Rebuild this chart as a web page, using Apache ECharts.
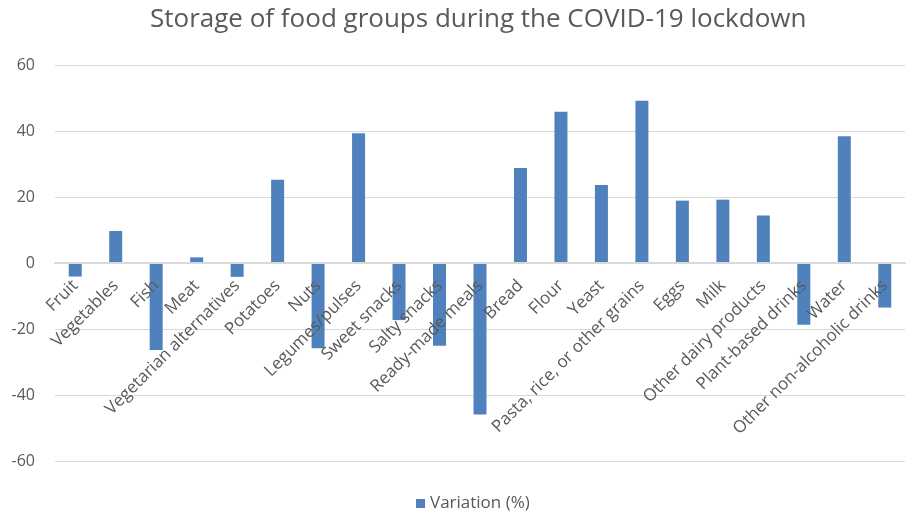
<!DOCTYPE html>
<html>
<head>
<meta charset="utf-8">
<script src="https://cdn.jsdelivr.net/npm/echarts@6/dist/echarts.min.js"></script>
<style>
html, body { margin: 0; padding: 0; background: #fff; }
#chart { width: 906px; height: 517px; }
</style>
</head>
<body>
<div id="chart"></div>
<script>
const categories = ['Fruit', 'Vegetables', 'Fish', 'Meat', 'Vegetarian alternatives', 'Potatoes', 'Nuts',
  'Legumes/pulses', 'Sweet snacks', 'Salty snacks', 'Ready-made meals', 'Bread', 'Flour', 'Yeast',
  'Pasta, rice, or other grains', 'Eggs', 'Milk', 'Other dairy products', 'Plant-based drinks', 'Water',
  'Other non-alcoholic drinks'];
const variation = [-4.1, 9.7, -26.4, 1.7, -4.2, 25.2, -25.8, 39.3, -17.3, -25.1, -45.9, 28.8, 45.8, 23.6,
  49.2, 18.9, 19.2, 14.4, -18.7, 38.4, -13.5];
const yTicks = { min: -60, max: 60, step: 20 };

const chart = echarts.init(document.getElementById('chart'));
const grey = '#595959';
const font = 'Open Sans';

chart.setOption({
  animation: false,
  title: {
    text: 'Storage of food groups during the COVID-19 lockdown',
    left: 145,
    top: 2,
    textStyle: { fontFamily: font, fontSize: 26, fontWeight: 'normal', color: grey }
  },
  legend: {
    top: 490,
    left: 411,
    itemWidth: 9,
    itemHeight: 9,
    itemGap: 6,
    icon: 'rect',
    textStyle: { fontFamily: font, fontSize: 17, color: grey },
    data: ['Variation (%)']
  },
  grid: { left: 55, right: 1, top: 65, bottom: 56, containLabel: false, outerBoundsMode: 'none' },
  xAxis: {
    type: 'category',
    data: categories,
    z: 5,
    // sit the axis (line and labels) on the zero level, half way up the plot
    offset: -198,
    axisLine: { onZero: false, lineStyle: { color: '#d9d9d9', width: 2 } },
    axisTick: { show: false },
    axisLabel: {
      interval: 0,
      rotate: 45,
      margin: 20,
      fontFamily: font,
      fontSize: 17,
      color: grey
    }
  },
  yAxis: {
    type: 'value',
    min: yTicks.min,
    max: yTicks.max,
    interval: yTicks.step,
    axisLine: { show: false },
    axisTick: { show: false },
    axisLabel: { margin: 20, fontFamily: font, fontSize: 16, color: grey },
    splitLine: { lineStyle: { color: '#d9d9d9', width: 1 } }
  },
  series: [{
    name: 'Variation (%)',
    type: 'bar',
    data: variation,
    barWidth: 13,
    itemStyle: { color: '#4f81bd' }
  }]
});
</script>
</body>
</html>
